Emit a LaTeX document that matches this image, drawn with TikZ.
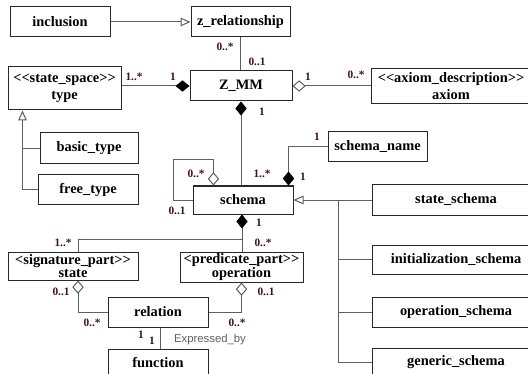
\documentclass[tikz,border=0pt]{standalone}
\usepackage{fontspec}
\setmainfont{Liberation Serif}
\newfontfamily\lsans{Liberation Sans}
\usetikzlibrary{arrows.meta,calc}
\definecolor{lab}{RGB}{70,15,15}
\definecolor{conn}{RGB}{95,95,95}
\definecolor{bord}{RGB}{40,40,40}
\begin{document}
\begin{tikzpicture}[x=0.75pt,y=-0.75pt,
 box/.style={draw=bord, line width=0.75pt, inner sep=0pt, align=center, font=\fontsize{10.8}{12.8}\selectfont\bfseries},
 tight/.style={font=\fontsize{10.8}{9.6}\selectfont\bfseries},
 lbl/.style={font=\fontsize{8.5}{9}\selectfont\bfseries, text=lab, inner sep=0pt},
 conn/.style={draw=conn, line width=0.75pt},
 comp/.style={conn, {Diamond[length=10.5pt,width=8.5pt,color=black]}-},
 aggr/.style={conn, {Diamond[open,length=10pt,width=8.5pt,fill=white]}-},
 gen/.style={conn, -{Triangle[open,length=7.5pt,width=6.5pt,fill=white]}},
]
\useasboundingbox (0,0) rectangle (528,374);

% boxes
\node[box, minimum width=75pt, minimum height=22.5pt] (inclusion) at (60,22) {inclusion};
\node[box, minimum width=74.25pt, minimum height=22.5pt] (zrel) at (240.5,22) {z\_relationship};
\node[box, minimum width=76.5pt, minimum height=22.5pt] (zmm) at (241,86) {Z\_MM};
\node[box, minimum width=84.75pt, minimum height=32.25pt] (type) at (64.5,88.5) {<{}<state\_space>{}>\\type};
\node[box, minimum width=73.5pt, minimum height=23.25pt] (basic) at (89,148.5) {basic\_type};
\node[box, minimum width=75pt, minimum height=21.75pt] (free) at (88,189.5) {free\_type};
\node[box, minimum width=120pt, minimum height=26.25pt] (axiom) at (451,86.5) {<{}<axiom\_description>{}>\\axiom};
\node[box, minimum width=74.25pt, minimum height=22.5pt] (schemaname) at (377.5,147) {schema\_name};
\node[box, minimum width=75pt, minimum height=21pt] (schema) at (243,200) {schema};
\node[box, minimum width=126pt, minimum height=22.5pt] (stateschema) at (456,200) {state\_schema};
\node[box, minimum width=126pt, minimum height=21.75pt] (initschema) at (456,259.5) {initialization\_schema};
\node[box, minimum width=126pt, minimum height=22.5pt] (opschema) at (456,312) {operation\_schema};
\node[box, minimum width=126pt, minimum height=21pt] (genschema) at (456,362) {generic\_schema};
\node[box, tight, minimum width=97.5pt, minimum height=21pt] (state) at (73,266) {<signature\_part>{}>\\state};
\node[box, tight, minimum width=92.25pt, minimum height=22.5pt] (operation) at (241.5,267) {<predicate\_part>{}>\\operation};
\node[box, minimum width=75pt, minimum height=22.5pt] (relation) at (158,312) {relation};
\node[box, minimum width=75pt, minimum height=20.25pt] (function) at (158,362.5) {function};

% connectors
\draw[gen] (inclusion.east) -- (zrel.west);
\draw[conn] (zrel.south) -- (zrel.south |- zmm.north);
\draw[comp] (zmm.west) -- (zmm.west -| type.east);
\draw[comp] (zmm.south) -- (zmm.south |- schema.north);
\draw[aggr] (zmm.east) -- (zmm.east -| axiom.west);

\coordinate (tb) at ($(type.south west)+(15,0)$);
\draw[gen] (free.west) -| (tb);
\draw[conn] (basic.west) -- (basic.west -| tb);

\draw[aggr] ($(schema.north west)+(21,0)$) -- ++(0,-26) -| ($(schema.west)+(-19,0)$) -- (schema.west);
\draw[comp] ($(schema.north east)+(-5,0)$) |- (schemaname.west);

\coordinate (sg) at ($(schema.east)+(45,0)$);
\draw[gen] (stateschema.west) -- (schema.east);
\draw[conn] (sg) |- (genschema.west);
\draw[conn] (initschema.west) -- (initschema.west -| sg);
\draw[conn] (opschema.west) -- (opschema.west -| sg);

\coordinate (sb) at ($(schema.south)+(-1,25)$);
\draw[comp] ($(schema.south)+(-1,0)$) -- (sb) -| ($(state.north)+(5,0)$);
\draw[conn] (sb) -- (sb |- operation.north);
\draw[aggr] ($(state.south)+(5,0)$) |- (relation.west);
\draw[aggr] (operation.south) |- (relation.east);
\draw[conn] ($(relation.south)+(2,0)$) -- ($(function.north)+(2,0)$);

% labels
\node[lbl] at (225,47) {0..*};
\node[lbl] at (257,62) {0..1};
\node[lbl] at (134,77) {1..*};
\node[lbl] at (173,77) {1};
\node[lbl] at (262,112) {1};
\node[lbl] at (308,77) {1};
\node[lbl] at (356,75) {0..*};
\node[lbl] at (317,137) {1};
\node[lbl] at (303,177) {1};
\node[lbl] at (262,174) {1..*};
\node[lbl] at (196,174) {0..*};
\node[lbl] at (177,211) {0..1};
\node[lbl] at (259,223) {1};
\node[lbl] at (263,243) {0..*};
\node[lbl] at (63,243) {1..*};
\node[lbl] at (61,292) {0..1};
\node[lbl] at (266,292) {0..1};
\node[lbl] at (92,323) {0..*};
\node[lbl] at (237,323) {0..*};
\node[lbl] at (141,335) {1};
\node[lbl] at (152,341) {1};
\node[font=\lsans\fontsize{8.5}{9}\selectfont, text=conn, inner sep=0pt] at (210,340) {Expressed\_by};
\end{tikzpicture}
\end{document}
